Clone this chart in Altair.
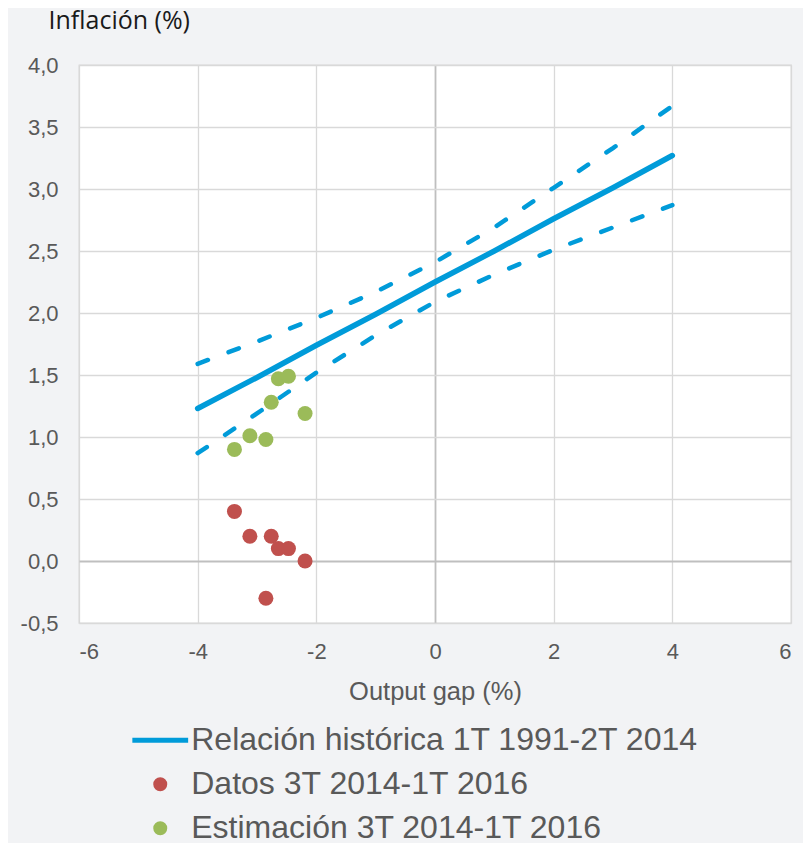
import altair as alt
import pandas as pd

# ---- data ----
gap = [-3.38, -3.12, -2.85, -2.76, -2.64, -2.47, -2.19]
datos = [0.40, 0.20, -0.30, 0.20, 0.10, 0.10, 0.00]
estimacion = [0.90, 1.01, 0.98, 1.28, 1.47, 1.49, 1.19]

line_x = [-4, -3, -2, -1, 0, 1, 2, 3, 4]
central = [1.23, 1.48, 1.74, 1.99, 2.25, 2.50, 2.76, 3.01, 3.27]
upper = [1.59, 1.77, 1.96, 2.17, 2.41, 2.69, 3.01, 3.33, 3.67]
lower = [0.87, 1.19, 1.52, 1.82, 2.09, 2.31, 2.51, 2.69, 2.87]

series = ["Relación histórica 1T 1991-2T 2014", "Datos 3T 2014-1T 2016", "Estimación 3T 2014-1T 2016"]
colors = ["#009bd9", "#c0504d", "#9bbb59"]
shapes = ["M-6.2,0H6.2", "circle", "circle"]

x_ticks = [-6, -4, -2, 0, 2, 4, 6]
y_ticks = [-0.5, 0.0, 0.5, 1.0, 1.5, 2.0, 2.5, 3.0, 3.5, 4.0]

BLUE, RED, GREEN = colors
LABEL = "#595959"
FONT = "Liberation Sans"

# ---- tables ----
df_central = pd.DataFrame({"x": line_x, "y": central})
df_band = pd.concat([
    pd.DataFrame({"x": line_x, "y": upper, "banda": "sup"}),
    pd.DataFrame({"x": line_x, "y": lower, "banda": "inf"}),
])
df_datos = pd.DataFrame({"x": gap, "y": datos})
df_est = pd.DataFrame({"x": gap, "y": estimacion})
df_leg = pd.DataFrame({"serie": series, "x": [None] * 3, "y": [None] * 3})

grid_color = alt.condition("datum.value === 0", alt.value("#bfbfbf"), alt.value("#d9d9d9"))
grid_width = alt.condition("datum.value === 0", alt.value(1.8), alt.value(1.3))

x_enc = alt.X(
    "x:Q",
    scale=alt.Scale(domain=[-6, 6], nice=False, zero=False),
    axis=alt.Axis(
        values=x_ticks,
        labelExpr="(datum.value < 0 ? '-' : '') + format(abs(datum.value), 'd')",
        grid=True, gridColor=grid_color, gridWidth=grid_width,
        domain=False, ticks=False,
        labelFont=FONT, labelFontSize=22, labelColor=LABEL, labelPadding=18,
        title="Output gap (%)", titleFont=FONT, titleFontSize=25.5,
        titleFontWeight="normal", titleColor=LABEL,
        titleY=76, titleBaseline="alphabetic",
    ),
)
y_enc = alt.Y(
    "y:Q",
    scale=alt.Scale(domain=[-0.5, 4.0], nice=False, zero=False),
    axis=alt.Axis(
        values=y_ticks,
        labelExpr="(datum.value < 0 ? '-' : '') + replace(format(abs(datum.value), '.1f'), '.', ',')",
        grid=True, gridColor=grid_color, gridWidth=grid_width,
        domain=False, ticks=False,
        labelFont=FONT, labelFontSize=22, labelColor=LABEL, labelPadding=21,
        title="Inflación (%)", titleFont="Open Sans", titleFontSize=25,
        titleFontWeight="normal", titleColor="#1a1a1a",
        titleAngle=0, titleAlign="left", titleBaseline="alphabetic",
        titleX=-31, titleY=-36.5,
    ),
)

leg = alt.Legend(
    title=None, orient="none", legendX=65.25, legendY=659.25, direction="vertical",
    labelFont=FONT, labelFontSize=32, labelColor=LABEL, labelLimit=800,
    labelOffset=15, rowPadding=12, symbolSize=81, symbolStrokeWidth=5,
    padding=0, symbolOpacity=1,
)

band = alt.Chart(df_band).mark_line(
    color=BLUE, strokeWidth=4.5, strokeDash=[11, 22], strokeCap="round"
).encode(x=x_enc, y=y_enc, detail="banda:N")

central_line = alt.Chart(df_central).mark_line(
    color=BLUE, strokeWidth=5.5, strokeCap="round"
).encode(x=x_enc, y=y_enc)

pts_datos = alt.Chart(df_datos).mark_circle(size=225, opacity=1, color=RED).encode(x=x_enc, y=y_enc)
pts_est = alt.Chart(df_est).mark_circle(size=225, opacity=1, color=GREEN).encode(x=x_enc, y=y_enc)

legend_layer = alt.Chart(df_leg).mark_point(filled=True, opacity=1, strokeWidth=5, size=81).encode(
    x=x_enc, y=y_enc,
    fill=alt.Fill("serie:N", scale=alt.Scale(domain=series, range=colors), legend=leg),
    stroke=alt.Stroke("serie:N", scale=alt.Scale(domain=series, range=colors), legend=leg),
    shape=alt.Shape("serie:N", scale=alt.Scale(domain=series, range=shapes), legend=leg),
)

chart = alt.layer(band, central_line, pts_datos, pts_est, legend_layer).properties(
    width=712, height=558,
    autosize=alt.AutoSizeParams(type="none"),
    padding={"left": 71, "top": 57, "right": 12, "bottom": 220},
    background="#f2f3f5",
).configure_view(
    fill="white", stroke="#d9d9d9", strokeWidth=1.3
)

chart.save("out.html", embed_options={"renderer": "svg", "actions": False})
